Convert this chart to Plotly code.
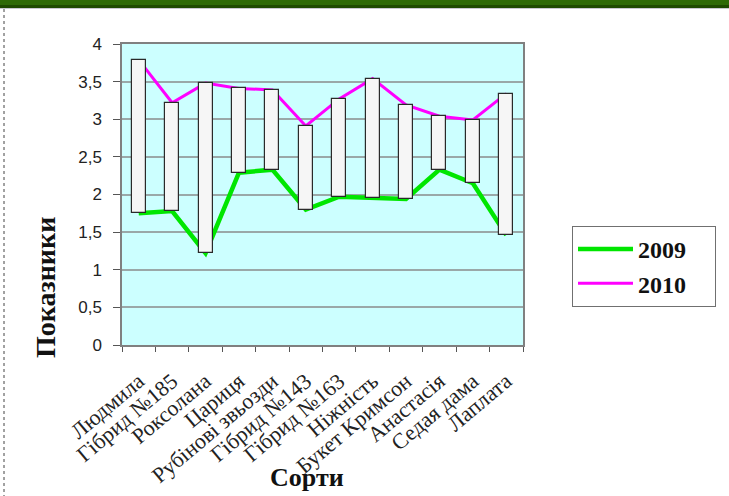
import plotly.graph_objects as go

# Варієтети та показники за два роки
sorts = ["Людмила", "Гібрид №185", "Роксолана", "Цариця", "Рубінові звьозди",
         "Гібрид №143", "Гібрид №163", "Ніжність", "Букет Кримсон", "Анастасія",
         "Седая дама", "Лаплата"]
y2009 = [1.75, 1.78, 1.22, 2.29, 2.33, 1.80, 1.97, 1.96, 1.94, 2.33, 2.15, 1.46]
y2010 = [3.79, 3.22, 3.48, 3.41, 3.39, 2.91, 3.27, 3.54, 3.19, 3.04, 2.99, 3.34]
y_ticks = [0, 0.5, 1, 1.5, 2, 2.5, 3, 3.5, 4]

W, H = 729, 496
L, R, T, B = 122, 206, 44, 151
pw, ph = W - L - R, H - T - B


def px(x):
    return (x - L) / pw


def py(y):
    return (H - B - y) / ph


serif = "Liberation Serif, Times New Roman, serif"
sans = "Liberation Sans, Arial, sans-serif"
pad = "\u00a0\u00a0\u00a0\u00a0"

fig = go.Figure()

fig.add_trace(go.Scatter(
    x=sorts, y=y2009, mode="lines", name="<b>2009</b>" + pad,
    line=dict(color="#00e600", width=4.5), legendgroup="a",
))
fig.add_trace(go.Scatter(
    x=sorts, y=y2010, mode="lines", name="<b>2010</b>" + pad,
    line=dict(color="#ff00ff", width=3), legendgroup="b",
))

# стовпчики між значеннями 2009 і 2010 років
fig.add_trace(go.Bar(
    x=sorts, y=[b - a for a, b in zip(y2009, y2010)], base=y2009,
    width=0.42, marker=dict(color="#f6f6f6", line=dict(color="#2a2a2a", width=1.2)),
    yaxis="y2", showlegend=False, hoverinfo="skip",
))

shapes = [
    # зелена смуга вгорі сторінки
    dict(type="rect", xref="paper", yref="paper", x0=px(0), x1=px(W), y0=py(0), y1=py(5),
         fillcolor="#2e6a06", line=dict(width=0), layer="above"),
    dict(type="rect", xref="paper", yref="paper", x0=px(0), x1=px(W), y0=py(5), y1=py(8),
         fillcolor="#1e4a00", line=dict(width=0), layer="above"),
    dict(type="line", xref="paper", yref="paper", x0=px(0), x1=px(W), y0=py(8.5), y1=py(8.5),
         line=dict(color="#c8c8d0", width=1)),
    # пунктирна рамка зліва
    dict(type="line", xref="paper", yref="paper", x0=px(4), x1=px(4), y0=py(9), y1=py(H),
         line=dict(color="#444444", width=1, dash="dot")),
]

fig.update_layout(
    width=W, height=H,
    margin=dict(l=L, r=R, t=T, b=B, autoexpand=False),
    paper_bgcolor="white",
    plot_bgcolor="#ccffff",
    separators=", ",
    bargap=0,
    shapes=shapes,
    xaxis=dict(
        type="category", categoryorder="array", categoryarray=sorts,
        tickson="boundaries", ticks="outside", ticklen=5, tickcolor="#555555",
        tickangle=-40, tickfont=dict(family=serif, size=22, color="#222222"),
        ticklabelstandoff=13, automargin=False,
        showline=True, linecolor="#808080", linewidth=1.5, mirror=True,
        showgrid=False, range=[-0.5, 11.5],
    ),
    yaxis=dict(
        range=[0, 4], tickvals=y_ticks, ticks="outside", ticklen=7, tickcolor="#555555",
        tickfont=dict(family=sans, size=17, color="#222222"), ticklabelstandoff=8,
        automargin=False,
        showline=True, linecolor="#808080", linewidth=1.5, mirror=True,
        showgrid=True, gridcolor="#9aa8a8", gridwidth=1.5, zeroline=False,
    ),
    yaxis2=dict(range=[0, 4], overlaying="y", visible=False),
    legend=dict(
        x=px(572), y=py(226), xanchor="left", yanchor="top",
        bgcolor="white", bordercolor="#707070", borderwidth=1,
        font=dict(family=serif, size=24, color="#111111"),
        traceorder="grouped", tracegroupgap=0, itemwidth=55,
    ),
    annotations=[
        dict(text="<b>Сорти</b>", xref="paper", yref="paper", x=px(307), y=py(478),
             xanchor="center", yanchor="middle",
             showarrow=False, font=dict(family=serif, size=26, color="#111111")),
        dict(text="<b>Показники</b>", xref="paper", yref="paper", x=px(45), y=py(288),
             xanchor="center", yanchor="middle",
             showarrow=False, textangle=-90, font=dict(family=serif, size=28, color="#111111")),
    ],
)

fig.write_html("out.html")
